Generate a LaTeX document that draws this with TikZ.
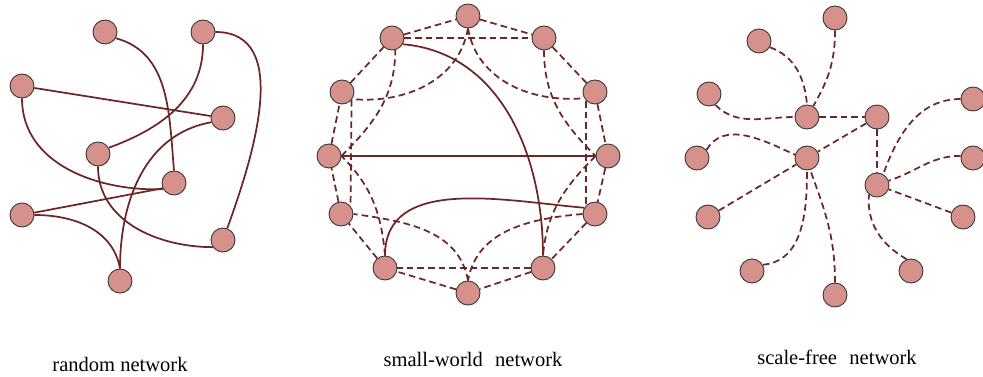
\documentclass[tikz,border=0pt]{standalone}
\usepackage{fontspec}
\setmainfont{Liberation Serif}
\usetikzlibrary{backgrounds}
\definecolor{nodefill}{HTML}{D7918D}
\definecolor{edgecol}{HTML}{6B2626}
\definecolor{nodeline}{HTML}{3A3A3A}
\begin{document}
\begin{tikzpicture}[x=0.75pt,y=0.75pt,
  vert/.style={circle,fill=nodefill,draw=nodeline,line width=0.7pt,minimum size=18pt,inner sep=0pt},
  link/.style={draw=edgecol,line width=1.3pt},
  dlink/.style={link,dash pattern=on 5pt off 3pt},
  lbl/.style={anchor=base,font=\fontsize{15.4}{18}\selectfont,inner sep=0pt}]
\useasboundingbox (0,0) rectangle (983,377);

% ---------- random network ----------
\node[vert] (A) at (105,345) {};
\node[vert] (B) at (203,345) {};
\node[vert] (C) at (22,291) {};
\node[vert] (D) at (223,259) {};
\node[vert] (E) at (98,223) {};
\node[vert] (F) at (174,194) {};
\node[vert] (G) at (22,162) {};
\node[vert] (H) at (223,137) {};
\node[vert] (I) at (120,96) {};

% ---------- small-world network ----------
\node[vert] (N0) at (468,361) {};
\node[vert] (N1) at (544,339) {};
\node[vert] (N2) at (595,285) {};
\node[vert] (N3) at (608,221) {};
\node[vert] (N4) at (595,163) {};
\node[vert] (N5) at (543,109) {};
\node[vert] (N6) at (468,84) {};
\node[vert] (N7) at (385,109) {};
\node[vert] (N8) at (341,163) {};
\node[vert] (N9) at (329,221) {};
\node[vert] (N10) at (342,285) {};
\node[vert] (N11) at (392,339) {};

% ---------- scale-free network ----------
\node[vert] (S1) at (835,359) {};
\node[vert] (S2) at (759,336) {};
\node[vert] (S3) at (709,283) {};
\node[vert] (S4) at (807,260) {};
\node[vert] (S5) at (877,260) {};
\node[vert] (S6) at (973,278) {};
\node[vert] (S7) at (807,219) {};
\node[vert] (S8) at (697,219) {};
\node[vert] (S9) at (973,219) {};
\node[vert] (S10) at (877,192) {};
\node[vert] (S11) at (708,160) {};
\node[vert] (S12) at (963,160) {};
\node[vert] (S13) at (752,106) {};
\node[vert] (S14) at (911,106) {};
\node[vert] (S15) at (835,82) {};

\begin{scope}[on background layer]
% random
\draw[link] (A.-30) to[out=-15,in=95] (F.north);
\draw[link] (B.south) to[out=-90,in=20] (E.30);
\draw[link] (B.east) to[out=0,in=70] (H.70);
\draw[link] (C) -- (D);
\draw[link] (C.south) to[out=-90,in=182] (F.210);
\draw[link] (D.200) to[out=190,in=90] (I.north);
\draw[link] (E.south) to[out=-90,in=180] (H.215);
\draw[link] (G) -- (F.205);
\draw[link] (G.east) to[out=0,in=100] (I.north);

% small-world ring
\draw[dlink] (N0) -- (N1);
\draw[dlink] (N1) -- (N2);
\draw[dlink] (N2) -- (N3);
\draw[dlink] (N3) -- (N4);
\draw[dlink] (N4) -- (N5);
\draw[dlink] (N5) -- (N6);
\draw[dlink] (N6) -- (N7);
\draw[dlink] (N7) -- (N8);
\draw[dlink] (N8) -- (N9);
\draw[dlink] (N9) -- (N10);
\draw[dlink] (N10) -- (N11);
\draw[dlink] (N11) -- (N0);
% second neighbours
\draw[dlink] (N11) -- (N1);
\draw[dlink] (N0.south) to[out=-80,in=185] (N2.210);
\draw[dlink] (N0.south) to[out=-100,in=-5] (N10.-35);
\draw[dlink] (N1.south) to[out=-90,in=135] (N3.west);
\draw[dlink] (N2.226) -- (N4.134);
\draw[dlink] (N3.west) to[out=-135,in=85] (N5.north);
\draw[dlink] (N4.west) to[out=185,in=80] (N6.north);
\draw[dlink] (N5) -- (N7);
\draw[dlink] (N6.north) to[out=100,in=-8] (N8.east);
\draw[dlink] (N7.north) to[out=95,in=-45] (N9.east);
\draw[dlink] (N10.-40) -- (N8.40);
\draw[dlink] (N9.east) to[out=45,in=-90] (N11.-75);
% small-world shortcuts
\draw[link] (N11.-30) to[out=-5,in=90] (N5.north);
\draw[link] (N9) -- (N3);
\draw[link] (N7.north) to[out=90,in=175] (N4.150);

% scale-free
\draw[dlink] (S1.south) to[out=-90,in=60] (S4.60);
\draw[dlink] (S2.-30) to[out=-20,in=95] (S4.north);
\draw[dlink] (S3.-60) to[out=-45,in=180] (S4.west);
\draw[dlink] (S4) -- (S5);
\draw[dlink] (S5) -- (S7);
\draw[dlink] (S5) -- (S10);
\draw[dlink] (S6.west) to[out=180,in=70] (S10.60);
\draw[dlink] (S8.40) to[out=60,in=155] (S7.165);
\draw[dlink] (S9.170) to[out=180,in=18] (S10.20);
\draw[dlink] (S11) -- (S7);
\draw[dlink] (S12) -- (S10);
\draw[dlink] (S13.30) to[out=5,in=-90] (S7.south);
\draw[dlink] (S15.north) to[out=90,in=-70] (S7.-75);
\draw[dlink] (S14.110) to[out=150,in=-95] (S10.-130);
\end{scope}

% labels
\node[lbl] (L1) at (120,5) {random network};
\node[lbl] (L2) at (473,10) {small-world\hspace{0.6em}network};
\node[lbl] (L3) at (837,12) {scale-free\hspace{0.6em}network};
\end{tikzpicture}
\end{document}
